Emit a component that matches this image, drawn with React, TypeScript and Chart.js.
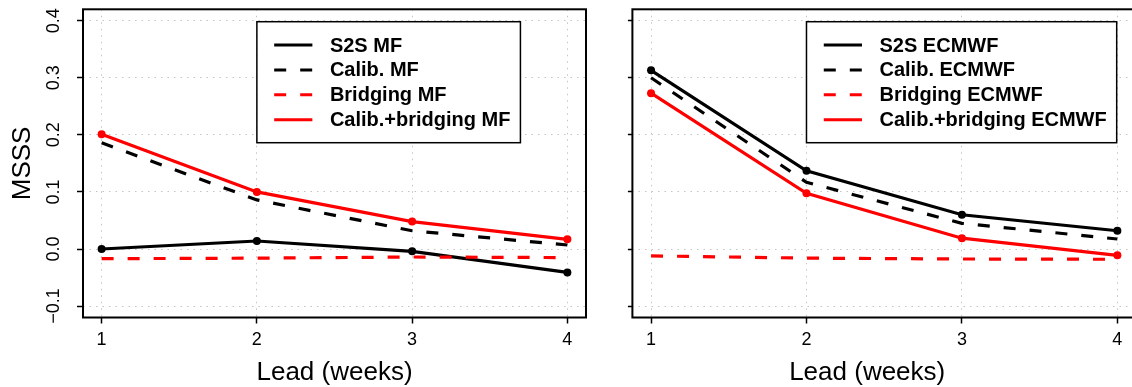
import React, { useEffect, useRef } from 'react';
import { Chart, registerables } from 'chart.js';

Chart.register(...registerables);

// ---------- data ----------
const leads = [1, 2, 3, 4];
const xTickLabels = ['1', '2', '3', '4'];
const yTicks = [-0.1, 0, 0.1, 0.2, 0.3, 0.4];
const yTickLabels = ['\u22120.1', '0.0', '0.1', '0.2', '0.3', '0.4'];

const mfLabels = ['S2S MF', 'Calib. MF', 'Bridging MF', 'Calib.+bridging MF'];
const mfS2S = [0.0, 0.014, -0.004, -0.041];
const mfCalib = [0.186, 0.086, 0.032, 0.007];
const mfBridging = [-0.017, -0.016, -0.014, -0.015];
const mfCalibBridging = [0.201, 0.1, 0.048, 0.017];

const ecLabels = ['S2S ECMWF', 'Calib. ECMWF', 'Bridging ECMWF', 'Calib.+bridging ECMWF'];
const ecS2S = [0.313, 0.137, 0.06, 0.032];
const ecCalib = [0.3, 0.117, 0.045, 0.0175];
const ecBridging = [-0.012, -0.016, -0.0175, -0.018];
const ecCalibBridging = [0.273, 0.0975, 0.019, -0.011];

const xTitle = 'Lead (weeks)';
const yTitle = 'MSSS';

// ---------- styles ----------
const FONT = '"Liberation Sans", Arial, Helvetica, sans-serif';
const DASH = [12, 14];
const seriesStyles = [
  { color: '#000000', dash: [] as number[], points: true },
  { color: '#000000', dash: DASH, points: false },
  { color: '#ff0000', dash: DASH, points: false },
  { color: '#ff0000', dash: [] as number[], points: true },
];

function makeDatasets(labels: string[], series: number[][]) {
  return series.map((s, k) => {
    const st = seriesStyles[k];
    return {
      label: labels[k],
      data: leads.map((x, i) => ({ x, y: s[i] })),
      borderColor: st.color,
      backgroundColor: st.color,
      borderWidth: 3.2,
      borderDash: st.dash,
      pointRadius: st.points ? 4 : 0,
      pointBorderWidth: 0,
      pointBackgroundColor: st.color,
      tension: 0,
      order: 10 - k,
      _dash: st.dash,
    };
  });
}

const framePlugin = {
  id: 'frame',
  afterDatasetsDraw(chart: any) {
    const { ctx, chartArea: a } = chart;
    ctx.save();
    ctx.strokeStyle = '#000';
    ctx.lineWidth = 2;
    ctx.strokeRect(a.left, a.top, a.right - a.left, a.bottom - a.top);
    ctx.restore();
  },
};

const boxLegendPlugin = {
  id: 'boxLegend',
  afterDraw(chart: any, _args: any, opts: any) {
    const { ctx } = chart;
    const xs = chart.scales.x;
    const ys = chart.scales.y;
    const left = xs.getPixelForValue(opts.x);
    const top = ys.getPixelForValue(opts.y) + 1;
    const font = 'bold 20px ' + FONT;
    ctx.save();
    ctx.font = font;
    const dsets = chart.data.datasets;
    let maxW = 0;
    dsets.forEach((d: any) => {
      maxW = Math.max(maxW, ctx.measureText(d.label).width);
    });
    const w = 73 + maxW + 10;
    const h = 121;
    ctx.fillStyle = '#fff';
    ctx.fillRect(left, top, w, h);
    ctx.strokeStyle = '#000';
    ctx.lineWidth = 1.5;
    ctx.strokeRect(left, top, w, h);
    dsets.forEach((d: any, i: number) => {
      const y = top + 23.3 + 24.9 * i;
      ctx.beginPath();
      ctx.setLineDash(d._dash || []);
      ctx.strokeStyle = d.borderColor;
      ctx.lineWidth = 3;
      ctx.moveTo(left + 17.3, y);
      ctx.lineTo(left + 55.5, y);
      ctx.stroke();
      ctx.setLineDash([]);
      ctx.fillStyle = '#000';
      ctx.textAlign = 'left';
      ctx.textBaseline = 'middle';
      ctx.fillText(d.label, left + 73, y + 1);
    });
    ctx.restore();
  },
};

const xTitlePlugin = {
  id: 'xTitle',
  afterDraw(chart: any, _args: any, opts: any) {
    const { ctx, chartArea: a } = chart;
    ctx.save();
    ctx.font = '26px ' + FONT;
    ctx.fillStyle = '#000';
    ctx.textAlign = 'center';
    ctx.textBaseline = 'alphabetic';
    ctx.fillText(opts.text, (a.left + a.right) / 2 + opts.dx, opts.baseline);
    ctx.restore();
  },
};

function buildConfig(labels: string[], series: number[][], isLeft: boolean, axisWidth: number, padRight: number, titleDx: number) {
  return {
    type: 'line' as const,
    data: { datasets: makeDatasets(labels, series) },
    plugins: [framePlugin, boxLegendPlugin, xTitlePlugin],
    options: {
      responsive: false,
      animation: false as const,
      events: [] as any[],
      layout: { padding: { left: 0, right: padRight, top: 9.3, bottom: 0 } },
      plugins: {
        legend: { display: false },
        tooltip: { enabled: false },
        boxLegend: { x: 2, y: 0.4 },
        xTitle: { text: xTitle, dx: titleDx, baseline: 380 },
      },
      scales: {
        x: {
          type: 'linear' as const,
          min: 0.88,
          max: 4.12,
          afterBuildTicks: (s: any) => {
            s.ticks = leads.map((v) => ({ value: v }));
          },
          afterFit: (s: any) => {
            s.height = 69.5;
            s.paddingLeft = 0;
            s.paddingRight = 0;
          },
          grid: {
            color: '#c4c4c4',
            lineWidth: 1,
            tickLength: 6,
            tickColor: '#000',
            tickWidth: 1.5,
            tickBorderDash: [],
          },
          border: { display: false, dash: [1.5, 5] },
          ticks: {
            autoSkip: false,
            maxRotation: 0,
            minRotation: 0,
            padding: 6,
            color: '#000',
            font: { family: FONT, size: 18 },
            callback: (_v: any, i: number) => xTickLabels[i],
          },
        },
        y: {
          type: 'linear' as const,
          min: -0.12,
          max: 0.42,
          afterBuildTicks: (s: any) => {
            s.ticks = yTicks.map((v) => ({ value: v }));
          },
          afterFit: (s: any) => {
            s.width = axisWidth;
            s.paddingTop = 0;
            s.paddingBottom = 0;
          },
          grid: {
            color: '#c4c4c4',
            lineWidth: 1,
            tickLength: isLeft ? 6 : 4.5,
            tickColor: '#000',
            tickWidth: 1.5,
            tickBorderDash: [],
          },
          border: { display: false, dash: [1.5, 5] },
          ticks: {
            display: isLeft,
            minRotation: 90,
            maxRotation: 90,
            crossAlign: 'center' as const,
            padding: 5,
            color: '#000',
            font: { family: FONT, size: 18 },
            callback: (_v: any, i: number) => yTickLabels[i],
          },
          title: {
            display: isLeft,
            text: yTitle,
            color: '#000',
            font: { family: FONT, size: 26 },
            padding: { top: 7, bottom: 0 },
          },
        },
      },
    },
  };
}

function Panel(props: { width: number; left: number; config: any }) {
  const ref = useRef<HTMLCanvasElement | null>(null);
  useEffect(() => {
    if (!ref.current) return;
    const chart = new Chart(ref.current, props.config);
    return () => chart.destroy();
  }, []);
  return (
    <canvas
      ref={ref}
      width={props.width}
      height={387}
      style={{ position: 'absolute', left: props.left, top: 0, width: props.width, height: 387 }}
    />
  );
}

export default function App() {
  const leftCfg = buildConfig(mfLabels, [mfS2S, mfCalib, mfBridging, mfCalibBridging], true, 83, 14, 0);
  const rightCfg = buildConfig(ecLabels, [ecS2S, ecCalib, ecBridging, ecCalibBridging], false, 32.4, 4, -17);
  return (
    <div
      style={{
        position: 'fixed',
        left: 0,
        top: 0,
        width: 1132,
        height: 387,
        overflow: 'hidden',
        background: '#fff',
      }}
    >
      <Panel width={600} left={0} config={leftCfg} />
      <Panel width={540} left={600} config={rightCfg} />
    </div>
  );
}
